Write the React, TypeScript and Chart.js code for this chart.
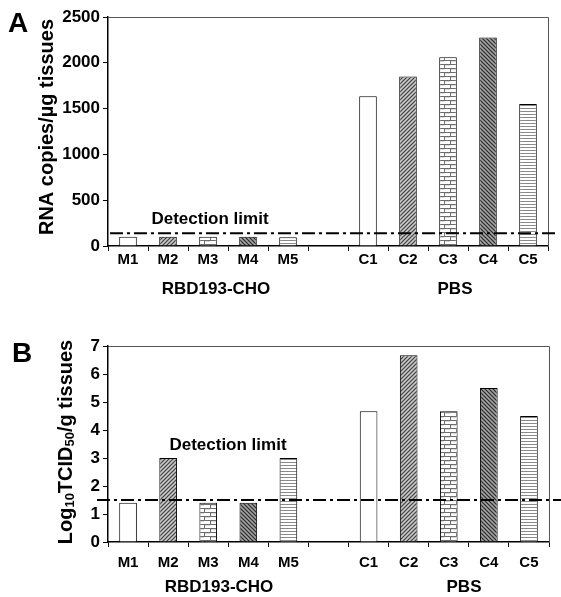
import React, { useEffect, useRef } from "react";
import { Chart, registerables } from "chart.js";

Chart.register(...registerables);

// ---------- data ----------
const categories = ["M1", "M2", "M3", "M4", "M5", "", "C1", "C2", "C3", "C4", "C5"];
const groupLabels = ["RBD193-CHO", "PBS"];

const rnaValues: (number | null)[] = [100, 100, 100, 100, 95, null, 1635, 1850, 2060, 2275, 1550];
const rnaTickMin = 0;
const rnaTickMax = 2500;
const rnaTickStep = 500;
const rnaDetectionLimit = 140;

const tcidValues: (number | null)[] = [1.4, 3.0, 1.4, 1.4, 3.0, null, 4.67, 6.67, 4.67, 5.5, 4.5];
const tcidTickMin = 0;
const tcidTickMax = 7;
const tcidTickStep = 1;
const tcidDetectionLimit = 1.5;

const patternKinds = ["open", "fwd", "brick", "back", "horiz", "open", "open", "fwd", "brick", "back", "horiz"];

const FONT = '"Liberation Sans", Arial, Helvetica, sans-serif';

function makePattern(kind: string): any {
  if (kind === "open") return "#ffffff";
  const c = document.createElement("canvas");
  const g = c.getContext("2d") as CanvasRenderingContext2D;
  if (kind === "fwd" || kind === "back") {
    c.width = 4;
    c.height = 4;
    g.fillStyle = kind === "fwd" ? "#c8c8c8" : "#a4a4a4";
    g.fillRect(0, 0, 4, 4);
    g.strokeStyle = kind === "fwd" ? "#404040" : "#262626";
    g.lineWidth = 1.2;
    g.beginPath();
    if (kind === "fwd") {
      g.moveTo(-1, 5); g.lineTo(5, -1);
      g.moveTo(-1, 1); g.lineTo(1, -1);
      g.moveTo(3, 5); g.lineTo(5, 3);
    } else {
      g.moveTo(-1, -1); g.lineTo(5, 5);
      g.moveTo(3, -1); g.lineTo(5, 1);
      g.moveTo(-1, 3); g.lineTo(1, 5);
    }
    g.stroke();
  } else if (kind === "brick") {
    c.width = 12;
    c.height = 8;
    g.fillStyle = "#ffffff";
    g.fillRect(0, 0, 12, 8);
    g.strokeStyle = "#6e6e6e";
    g.lineWidth = 1;
    g.beginPath();
    g.moveTo(0, 0.5); g.lineTo(12, 0.5);
    g.moveTo(0, 4.5); g.lineTo(12, 4.5);
    g.moveTo(0.5, 0); g.lineTo(0.5, 4);
    g.moveTo(6.5, 4); g.lineTo(6.5, 8);
    g.stroke();
    g.fillStyle = "#d8d8d8";
    g.fillRect(1, 1, 5, 1);
    g.fillRect(7, 5, 5, 1);
  } else if (kind === "horiz") {
    c.width = 2;
    c.height = 3;
    g.fillStyle = "#ffffff";
    g.fillRect(0, 0, 2, 3);
    g.fillStyle = "#8a8a8a";
    g.fillRect(0, 0, 2, 1);
  }
  return g.createPattern(c, "repeat");
}

type Seg = { t: string; sub?: boolean };

type PanelCfg = {
  letter: string;
  letterX: number;
  letterY: number;
  values: (number | null)[];
  min: number;
  max: number;
  step: number;
  limit: number;
  titleSegs: Seg[];
  titleX: number;
  titleY: number;
  limitTextX: number;
  limitTextY: number;
  lineLeft: number;
  lineRight: number;
  groupX: number[];
  groupY: number;
  padTop: number;
  padRight: number;
  xHeight: number;
  xPad: number;
};

function panelPlugin(p: PanelCfg) {
  return {
    id: "panel" + p.letter,
    afterDatasetsDraw(chart: any) {
      const { ctx, chartArea: a, scales } = chart;
      ctx.save();
      // frame (top and right)
      ctx.strokeStyle = "#555";
      ctx.lineWidth = 1;
      ctx.beginPath();
      ctx.moveTo(a.left, a.top + 0.5);
      ctx.lineTo(a.right + 0.5, a.top + 0.5);
      ctx.lineTo(a.right + 0.5, a.bottom);
      ctx.stroke();
      // detection limit line
      const y = scales.y.getPixelForValue(p.limit);
      ctx.strokeStyle = "#000";
      ctx.lineWidth = 2;
      ctx.setLineDash([13, 4, 3, 4]);
      ctx.beginPath();
      ctx.moveTo(a.left - p.lineLeft, y);
      ctx.lineTo(a.right + p.lineRight, y);
      ctx.stroke();
      ctx.setLineDash([]);
      // detection limit text
      ctx.fillStyle = "#000";
      ctx.textAlign = "center";
      ctx.textBaseline = "middle";
      ctx.font = `bold 17px ${FONT}`;
      ctx.fillText("Detection limit", p.limitTextX, p.limitTextY);
      // group labels
      ctx.font = `bold 17px ${FONT}`;
      groupLabels.forEach((g, i) => ctx.fillText(g, p.groupX[i], p.groupY));
      // panel letter
      ctx.textAlign = "left";
      ctx.textBaseline = "alphabetic";
      ctx.font = `bold 28px ${FONT}`;
      ctx.fillText(p.letter, p.letterX, p.letterY);
      // y axis title (rotated, with subscripts)
      ctx.translate(p.titleX, p.titleY);
      ctx.rotate(-Math.PI / 2);
      const mainFont = `bold 20px ${FONT}`;
      const subFont = `bold 13px ${FONT}`;
      let total = 0;
      const widths = p.titleSegs.map((s) => {
        ctx.font = s.sub ? subFont : mainFont;
        const w = ctx.measureText(s.t).width;
        total += w;
        return w;
      });
      let x = -total / 2;
      ctx.textBaseline = "middle";
      p.titleSegs.forEach((s, i) => {
        ctx.font = s.sub ? subFont : mainFont;
        ctx.fillText(s.t, x, s.sub ? 4 : 0);
        x += widths[i];
      });
      ctx.restore();
    },
  };
}

function buildChart(canvas: HTMLCanvasElement, p: PanelCfg) {
  const bg = patternKinds.map(makePattern);
  return new Chart(canvas, {
    type: "bar",
    data: {
      labels: categories,
      datasets: [
        {
          data: p.values,
          backgroundColor: bg,
          borderColor: "#000",
          borderWidth: 1,
          barPercentage: 0.44,
          categoryPercentage: 1,
        },
      ],
    },
    options: {
      responsive: false,
      animation: false,
      layout: { padding: { left: 0, top: p.padTop, right: p.padRight, bottom: 0 } },
      plugins: { legend: { display: false }, tooltip: { enabled: false } },
      scales: {
        x: {
          offset: true,
          grid: { display: true, drawOnChartArea: false, offset: true, tickLength: 5, color: "#000", lineWidth: 1 },
          border: { display: true, color: "#000", width: 1.5 },
          ticks: {
            autoSkip: false,
            maxRotation: 0,
            padding: p.xPad,
            color: "#000",
            font: { family: FONT, size: 15, weight: "bold" },
          },
          afterFit: (s: any) => {
            s.height = p.xHeight;
          },
        },
        y: {
          min: p.min,
          max: p.max,
          grid: { display: true, drawOnChartArea: false, tickLength: 5, color: "#000", lineWidth: 1 },
          border: { display: true, color: "#000", width: 1.5 },
          ticks: {
            stepSize: p.step,
            padding: 3,
            color: "#000",
            font: { family: FONT, size: 17, weight: "bold" },
            callback: (v: any) => String(v),
          },
          afterFit: (s: any) => {
            s.width = 108;
          },
        },
      },
    },
    plugins: [panelPlugin(p)],
  } as any);
}

const panelA: PanelCfg = {
  letter: "A",
  letterX: 8,
  letterY: 32,
  values: rnaValues,
  min: rnaTickMin,
  max: rnaTickMax,
  step: rnaTickStep,
  limit: rnaDetectionLimit,
  titleSegs: [{ t: "RNA copies/µg tissues" }],
  titleX: 47,
  titleY: 127,
  limitTextX: 210,
  limitTextY: 219,
  lineLeft: -2,
  lineRight: 8,
  groupX: [216, 455],
  groupY: 289,
  padTop: 17,
  padRight: 13,
  xHeight: 54,
  xPad: 0,
};

const panelB: PanelCfg = {
  letter: "B",
  letterX: 12,
  letterY: 62,
  values: tcidValues,
  min: tcidTickMin,
  max: tcidTickMax,
  step: tcidTickStep,
  limit: tcidDetectionLimit,
  titleSegs: [{ t: "Log" }, { t: "10", sub: true }, { t: "TCID" }, { t: "50", sub: true }, { t: "/g tissues" }],
  titleX: 66,
  titleY: 142,
  limitTextX: 228,
  limitTextY: 145,
  lineLeft: 11,
  lineRight: 13,
  groupX: [219, 464],
  groupY: 287,
  padTop: 46,
  padRight: 12,
  xHeight: 55,
  xPad: 7,
};

export default function App() {
  const refA = useRef<HTMLCanvasElement>(null);
  const refB = useRef<HTMLCanvasElement>(null);
  useEffect(() => {
    const a = buildChart(refA.current as HTMLCanvasElement, panelA);
    const b = buildChart(refB.current as HTMLCanvasElement, panelB);
    return () => {
      a.destroy();
      b.destroy();
    };
  }, []);
  return (
    <div style={{ position: "absolute", left: 0, top: 0, width: 561, height: 597, background: "#fff" }}>
      <canvas ref={refA} width={561} height={300} style={{ position: "absolute", left: 0, top: 0 }} />
      <canvas ref={refB} width={561} height={297} style={{ position: "absolute", left: 0, top: 300 }} />
    </div>
  );
}
